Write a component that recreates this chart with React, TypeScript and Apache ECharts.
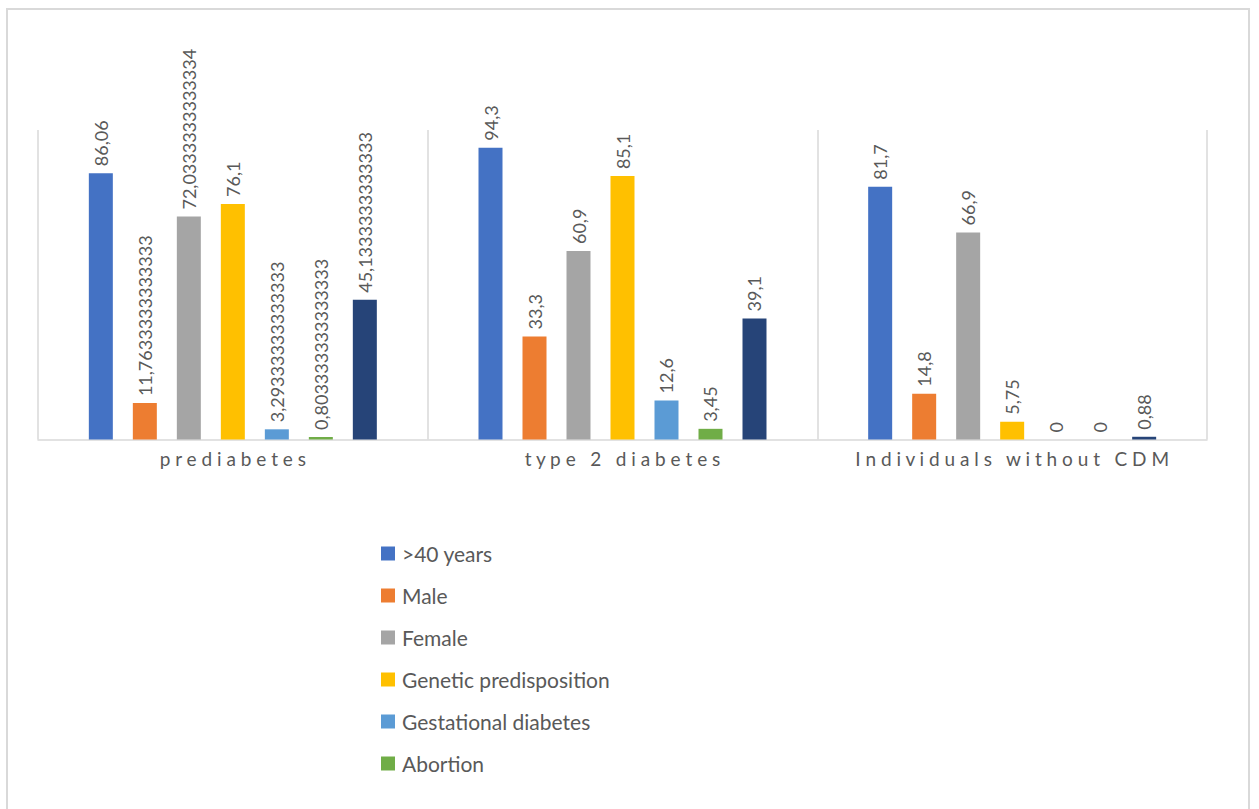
import React, { useEffect, useRef } from "react";
import * as echarts from "echarts";

const categories = ["prediabetes", "type 2 diabetes", "Individuals without CDM"];
const seriesNames = [
  ">40 years",
  "Male",
  "Female",
  "Genetic predisposition",
  "Gestational diabetes",
  "Abortion",
  "Series 7",
];
const legendNames = [
  ">40 years",
  "Male",
  "Female",
  "Genetic predisposition",
  "Gestational diabetes",
  "Abortion",
];
const over40 = [86.06, 94.3, 81.7];
const male = [11.7633333333333, 33.3, 14.8];
const female = [72.0333333333334, 60.9, 66.9];
const genetic = [76.1, 85.1, 5.75];
const gestational = [3.29333333333333, 12.6, 0];
const abortion = [0.803333333333333, 3.45, 0];
const series7 = [45.1333333333333, 39.1, 0.88];
const colors = ["#4472C4", "#ED7D31", "#A5A5A5", "#FFC000", "#5B9BD5", "#70AD47", "#264478"];

const allValues = [over40, male, female, genetic, gestational, abortion, series7];
const FONT = "Lato, 'Open Sans', sans-serif";

export default function App() {
  const ref = useRef<HTMLDivElement>(null);
  useEffect(() => {
    if (!ref.current) return;
    const chart = echarts.init(ref.current, null, { renderer: "svg" });
    chart.setOption({
      animation: false,
      backgroundColor: "#ffffff",
      color: colors,
      textStyle: { fontFamily: FONT },
      grid: { left: 38, right: 52, top: 130, bottom: 369.5, containLabel: false },
      legend: {
        data: legendNames,
        orient: "vertical",
        left: 381,
        top: 543,
        padding: 0,
        icon: "rect",
        itemWidth: 14,
        itemHeight: 14,
        itemGap: 21,
        textStyle: { fontSize: 21, color: "#595959", fontFamily: FONT, padding: [0, 0, 0, 2] },
      },
      xAxis: {
        type: "category",
        data: categories,
        boundaryGap: true,
        axisLine: { show: true, lineStyle: { color: "#d9d9d9", width: 1.5 } },
        axisTick: { show: false },
        splitLine: { show: true, lineStyle: { color: "#d9d9d9", width: 1.5 } },
        axisLabel: {
          interval: 0,
          hideOverlap: false,
          color: "#595959",
          fontSize: 19,
          fontFamily: FONT,
          margin: 9,
          formatter: (v: string) => v.split("").join(" "),
        },
      },
      yAxis: {
        type: "value",
        min: 0,
        max: 100,
        show: false,
        splitLine: { show: false },
      },
      series: seriesNames.map((name, i) => ({
        name,
        type: "bar",
        data: allValues[i],
        barWidth: 24,
        barGap: "83.33%",
        itemStyle: { color: colors[i] },
        label: {
          show: true,
          position: "top",
          rotate: 90,
          align: "left",
          verticalAlign: "middle",
          distance: 7,
          color: "#595959",
          fontSize: 18,
          fontFamily: FONT,
          formatter: (p: any) => String(p.value).replace(".", ","),
        },
      })),
    });
    return () => chart.dispose();
  }, []);
  return (
    <>
      <div
        ref={ref}
        style={{ position: "fixed", left: 0, top: 0, width: 1259, height: 809 }}
      />
      <div
        style={{
          position: "fixed",
          left: 6,
          top: 8,
          width: 1244,
          height: 840,
          border: "2px solid #d9d9d9",
          boxSizing: "border-box",
          pointerEvents: "none",
        }}
      />
    </>
  );
}
